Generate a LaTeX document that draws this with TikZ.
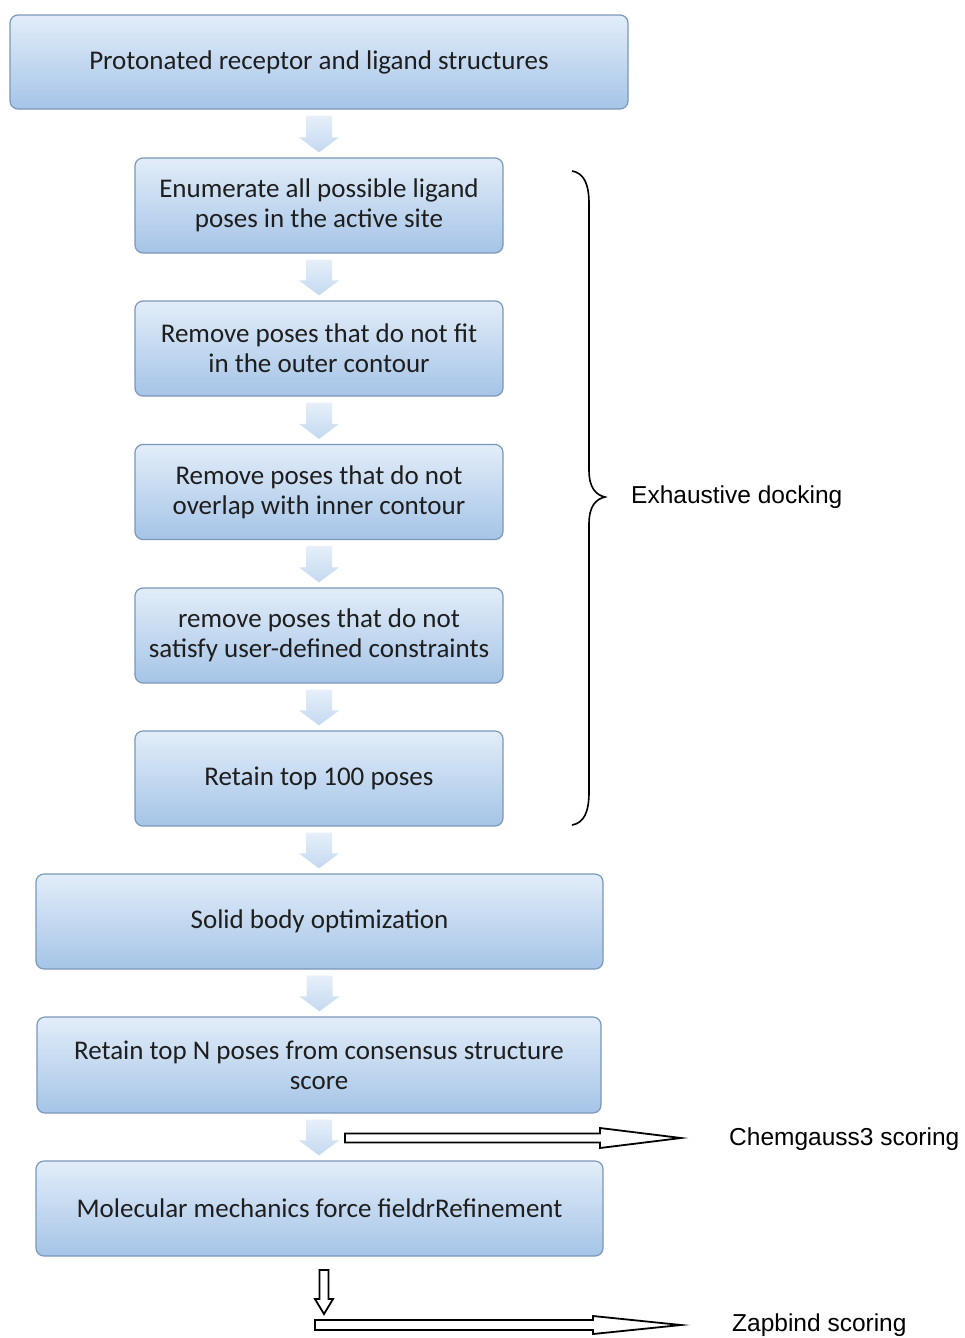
\documentclass[tikz,border=0pt]{standalone}
\usepackage{fontspec}
\setmainfont{Carlito}
\newfontfamily\arialfont{Liberation Sans}
\usetikzlibrary{calc}
\definecolor{boxtop}{HTML}{E2EDF9}
\definecolor{boxbot}{HTML}{A5C4E7}
\definecolor{boxline}{HTML}{7A98BA}
\definecolor{chevtop}{HTML}{E6EFFA}
\definecolor{chevbot}{HTML}{C4D9F0}
\definecolor{txt}{HTML}{1E1E1E}
\newcommand\chev[2]{\shade[top color=chevtop,bottom color=chevbot] let \p1=(#1.south), \p2=(#2.north) in
  (\x1-13pt,\y1-6pt) -- (\x1+13pt,\y1-6pt) -- (\x1+13pt,\y2+20pt) -- (\x1+20pt,\y2+20pt) --
  (\x1,\y2+5pt) -- (\x1-20pt,\y2+20pt) -- (\x1-13pt,\y2+20pt) -- cycle;}
% horizontal outline block arrow: start, tip, shaft half, head length, head half
\newcommand\hblock[5]{\draw[blockline] let \p1=(#1), \p2=(#2) in
  (\x1,\y1+#3) -- (\x2-#4,\y1+#3) -- (\x2-#4,\y1+#5) -- (\x2,\y1) -- (\x2-#4,\y1-#5) --
  (\x2-#4,\y1-#3) -- (\x1,\y1-#3) -- cycle;}
% vertical (downward) outline block arrow
\newcommand\vblock[5]{\draw[blockline] let \p1=(#1), \p2=(#2) in
  (\x1-#3,\y1) -- (\x1-#3,\y2+#4) -- (\x1-#5,\y2+#4) -- (\x1,\y2) -- (\x1+#5,\y2+#4) --
  (\x1+#3,\y2+#4) -- (\x1+#3,\y1) -- cycle;}
\begin{document}
\begin{tikzpicture}[x=1pt,y=-1pt,
  box/.style={rectangle, rounded corners=8pt, draw=boxline, line width=1.2pt,
    top color=boxtop, bottom color=boxbot, align=center,
    font=\fontsize{27}{30}\selectfont, text=txt, inner sep=0pt},
  side/.style={font=\arialfont\fontsize{24.5}{29}\selectfont, text=black, inner sep=0pt, anchor=west},
  blockline/.style={draw=black, line width=1.8pt, fill=white, line join=miter},
  bracestyle/.style={draw=black, line width=1.6pt}]
\path[fill=white] (0,0) rectangle (965,1338);
\useasboundingbox (0,0) rectangle (965,1338);

\node[box, minimum width=618pt, minimum height=94pt] (b1) at (319,62) {Protonated receptor and ligand structures};
\node[box, minimum width=368pt, minimum height=95pt] (b2) at (319,205.5) {Enumerate all possible ligand\\poses in the active site};
\node[box, minimum width=368pt, minimum height=95pt] (b3) at (319,348.5) {Remove poses that do not fit\\in the outer contour};
\node[box, minimum width=368pt, minimum height=95pt] (b4) at (319,492) {Remove poses that do not\\overlap with inner contour};
\node[box, minimum width=368pt, minimum height=95pt] (b5) at (319,635.5) {remove poses that do not\\satisfy user-defined constraints};
\node[box, minimum width=368pt, minimum height=95pt] (b6) at (319,778.5) {Retain top 100 poses};
\node[box, minimum width=567pt, minimum height=95pt] (b7) at (319.5,921.5) {Solid body optimization};
\node[box, minimum width=564pt, minimum height=96pt] (b8) at (319,1065) {Retain top N poses from consensus structure\\score};
\node[box, minimum width=567pt, minimum height=95pt] (b9) at (319.5,1208.5) {Molecular mechanics force fieldrRefinement};

\chev{b1}{b2}
\chev{b2}{b3}
\chev{b3}{b4}
\chev{b4}{b5}
\chev{b5}{b6}
\chev{b6}{b7}
\chev{b7}{b8}
\chev{b8}{b9}

\node[side] (exh) at (631,497) {Exhaustive docking};
\node[side] (chem) at (729,1139) {Chemgauss3 scoring};
\node[side] (zap) at (732,1325) {Zapbind scoring};

\coordinate (brt) at (605,497);
\draw[bracestyle] (572,171) .. controls (584,173) and (589,184) .. (589,204) -- (589,470)
  .. controls (589,488) and (596,495) .. (brt)
  .. controls (596,499) and (589,506) .. (589,524) -- (589,792)
  .. controls (589,812) and (584,823) .. (572,825);

\coordinate (cg1) at (345,1138);
\coordinate (cg2) at (681,1138);
\hblock{cg1}{cg2}{4.5pt}{81pt}{10pt}

\coordinate (zd1) at (324,1270);
\coordinate (zd2) at (324,1314);
\vblock{zd1}{zd2}{4.5pt}{15pt}{9pt}

\coordinate (zh1) at (315,1325);
\coordinate (zh2) at (681,1325);
\hblock{zh1}{zh2}{5pt}{88pt}{9pt}
\end{tikzpicture}
\end{document}
